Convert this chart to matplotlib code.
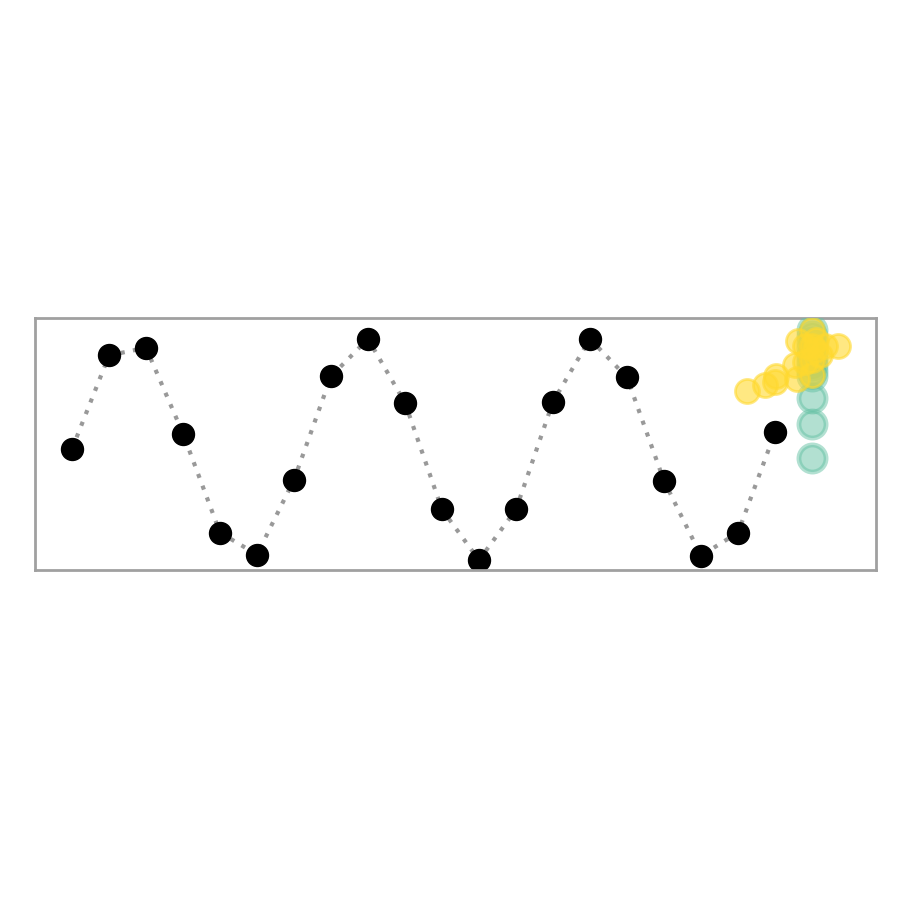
import matplotlib
matplotlib.use("Agg")
import matplotlib.pyplot as plt

# observed series
obs_x = list(range(20))
obs_y = [0.01, 0.86, 0.93, 0.15, -0.75, -0.95, -0.27, 0.67, 1.01, 0.43,
         -0.54, -1.00, -0.54, 0.44, 1.01, 0.66, -0.28, -0.96, -0.75, 0.16]

# teal sample points at next step
teal_x = [20] * 12
teal_y = [-0.07, 0.24, 0.47, 0.67, 0.77, 0.86, 0.93, 0.98, 1.04, 1.09, 0.82, 0.72]

# yellow scattered points
yel_x = [18.24, 18.73, 19.0, 19.03, 19.54, 19.59, 19.62, 19.81, 20.0, 20.0,
         20.08, 20.22, 20.35, 20.7, 20.0, 20.0, 19.8, 20.1]
yel_y = [0.54, 0.59, 0.62, 0.67, 0.77, 0.65, 0.99, 0.95, 1.09, 0.95,
         0.91, 0.86, 0.95, 0.95, 0.68, 0.82, 0.80, 1.00]

fig = plt.figure(figsize=(9, 9), dpi=100)
ax = fig.add_axes([35/900, 330/900, 841/900, 252/900])

ax.plot(obs_x, obs_y, linestyle=(0, (1, 2)), color="#999999", lw=3, zorder=1)
ax.scatter(obs_x, obs_y, s=250, color="black", zorder=2)
ax.scatter(teal_x, teal_y, s=380, facecolor="#66c2a5", edgecolor="#66c2a5",
           linewidths=3.5, alpha=0.5, zorder=3)
ax.scatter(yel_x, yel_y, s=300, facecolor="#ffd92f", edgecolor="#ffd92f",
           linewidths=2, alpha=0.6, zorder=4)

ax.set_xlim(-1, 21.73)
ax.set_ylim(-1.09, 1.2)
ax.set_xticks([])
ax.set_yticks([])
for sp in ax.spines.values():
    sp.set_color("#a0a0a0")
    sp.set_linewidth(2)

fig.savefig("out.png", dpi=100)
